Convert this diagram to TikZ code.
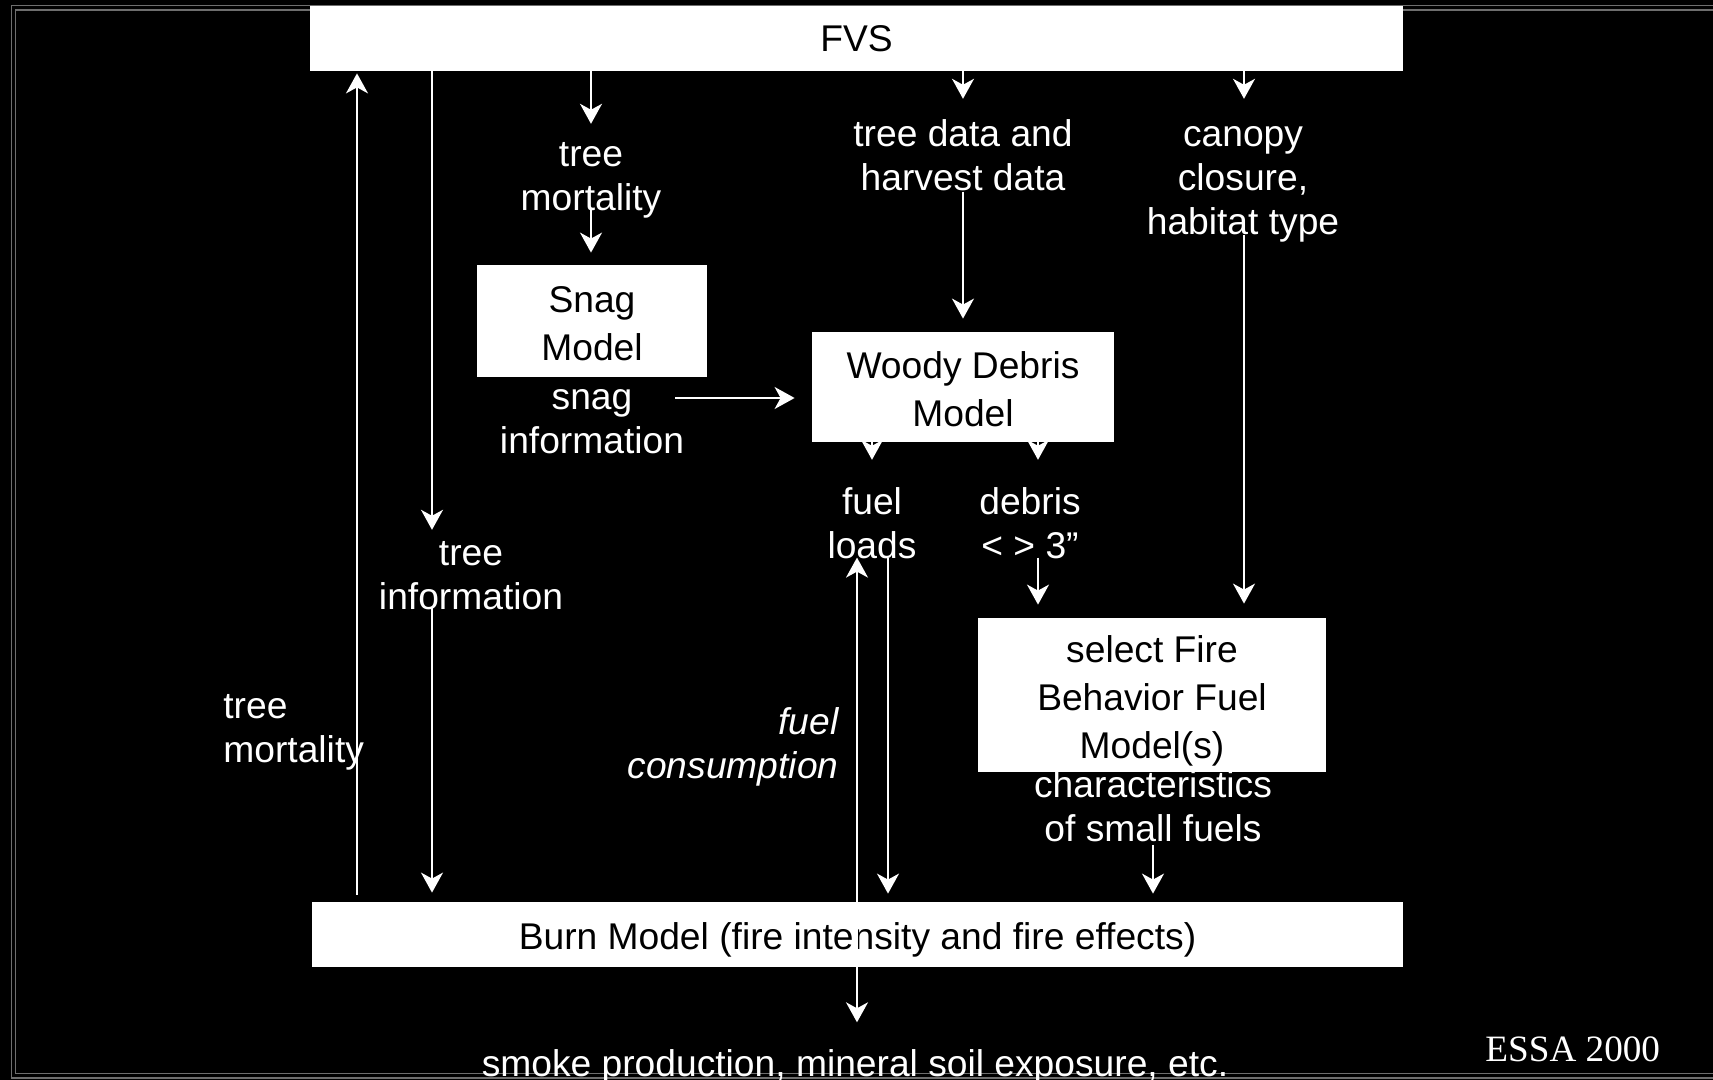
\documentclass[tikz,border=0pt]{standalone}
\usepackage{fontspec}
\setmainfont{Liberation Sans}
\newfontfamily\serifessa{Liberation Serif}
\usetikzlibrary{arrows.meta,calc}
% body size and line struts whose height/depth centre the capitals
\newcommand\fs{\fontsize{18.6pt}{22pt}\selectfont}
\newcommand\ls{\rule[-4.35pt]{0pt}{22pt}}
\newcommand\bls{\rule[-3.85pt]{0pt}{23pt}}
\definecolor{framegray}{RGB}{110,110,110}
\begin{document}
\begin{tikzpicture}[x=0.5pt,y=-0.5pt,
  lbl/.style={text=white,inner sep=0pt,font=\fs,align=center},
  wbox/.style={fill=white,text=black,inner sep=0pt,font=\fs,align=center},
  arr/.style={draw=white,line width=1pt,-{Stealth[length=10pt,width=11pt,inset=3pt]}},
  frameline/.style={draw=framegray,line width=0.7pt}]
\useasboundingbox (0,0) rectangle (1713,1080);
\fill[black] (0,0) rectangle (1713,1080);

% double frame
\draw[frameline] (1713,5.5) -- (11.5,5.5) -- (11.5,1078) -- (1713,1078);
\draw[frameline] (1713,10) -- (15.5,10) -- (15.5,1073.5) -- (1713,1073.5);

% model boxes
\node[wbox,minimum width=546.5pt,minimum height=32.5pt] (fvs) at (856.5,38.5) {\ls FVS};
\node[wbox,minimum width=545.5pt,minimum height=32.5pt] (burn) at (857.5,934.5) {\bls Burn Model (fire intensity and fire effects)};
\node[wbox,minimum width=115pt,minimum height=56pt] (snag) at (592,321) {\bls Snag\\\bls Model};
\node[wbox,minimum width=151pt,minimum height=55pt] (woody) at (963,387) {\bls Woody Debris\\\bls Model};
\node[wbox,minimum width=174pt,minimum height=77pt] (select) at (1152,695) {\bls select Fire\\\bls Behavior Fuel\\\bls Model(s)};

% flow labels
\node[lbl,align=left,anchor=west] (mortL) at (223,727.2) {\ls tree\\\ls mortality};
\node[lbl] (treeinfo) at (471,574.2) {\ls tree\\\ls information};
\node[lbl] (mortC) at (591,175.2) {\ls tree\\\ls mortality};
\node[lbl] (snaginfo) at (592,418.2) {\ls snag\\\ls information};
\node[lbl] (tdata) at (963,155.2) {\ls tree data and\\\ls harvest data};
\node[lbl] (canopy) at (1243,177.2) {\ls canopy\\\ls closure,\\\ls habitat type};
\node[lbl] (loads) at (872,523.2) {\ls fuel\\\ls loads};
\node[lbl] (debris) at (1030,523.2) {\ls debris\\\ls < > 3”};
\node[lbl,align=right,anchor=east,font=\fs\itshape] (cons) at (839,743.2) {\ls fuel\\\ls consumption};
\node[lbl] (charact) at (1153,806.2) {\ls characteristics\\\ls of small fuels};
\node[lbl] (smoke) at (855,1062.7) {\ls smoke production, mineral soil exposure, etc.};
\node[lbl,anchor=west,font=\fs\serifessa] (essa) at (1485,1048.2) {\ls ESSA 2000};

% columns of the vertical connectors
\coordinate (cA) at (357,0);
\coordinate (cB) at (432,0);
\coordinate (cC) at (591,0);
\coordinate (cD) at (963,0);
\coordinate (cE) at (1244,0);
\coordinate (cF) at (872,0);
\coordinate (cG) at (1038,0);
\coordinate (cH) at (857,0);
\coordinate (cI) at (888,0);
\coordinate (cJ) at (1153,0);
\coordinate (snagout) at (675,398);

% connectors
\draw[arr,shorten <=3.5pt,shorten >=1pt] (burn.north -| cA) -- (fvs.south -| cA);
\draw[arr] (fvs.south -| cB) -- (treeinfo.north -| cB);
\draw[arr,shorten <=-5.5pt,shorten >=4.5pt] (treeinfo.south -| cB) -- (burn.north -| cB);
\draw[arr,shorten >=3.5pt] (fvs.south -| cC) -- (mortC.north -| cC);
\draw[arr,shorten <=-6pt,shorten >=6pt] (mortC.south -| cC) -- (snag.north -| cC);
\draw[arr,shorten >=8.5pt] (snagout) -- (woody.west |- snagout);
\draw[arr,shorten >=6pt] (fvs.south -| cD) -- (tdata.north -| cD);
\draw[arr,shorten <=-4pt,shorten >=6.5pt] (tdata.south -| cD) -- (woody.north -| cD);
\draw[arr,shorten >=6pt] (fvs.south -| cE) -- (canopy.north -| cE);
\draw[arr,shorten <=-4.5pt,shorten >=7pt] (canopy.south -| cE) -- (select.north -| cE);
\draw[arr,shorten >=9.5pt] (woody.south -| cF) -- (loads.north -| cF);
\draw[arr,shorten >=9.5pt] (woody.south -| cG) -- (debris.north -| cG);
\draw[arr,shorten <=-5pt,shorten >=6.5pt] (debris.south -| cG) -- (select.north -| cG);
\draw[arr,shorten >=-5pt] (burn.south -| cH) -- (loads.south -| cH);
\draw[arr,shorten <=-5pt,shorten >=4pt] (loads.south -| cI) -- (burn.north -| cI);
\draw[arr,shorten <=-3pt,shorten >=4pt] (charact.south -| cJ) -- (burn.north -| cJ);
\draw[arr,shorten >=9pt] (burn.south -| cH) -- (smoke.north -| cH);
\end{tikzpicture}
\end{document}
